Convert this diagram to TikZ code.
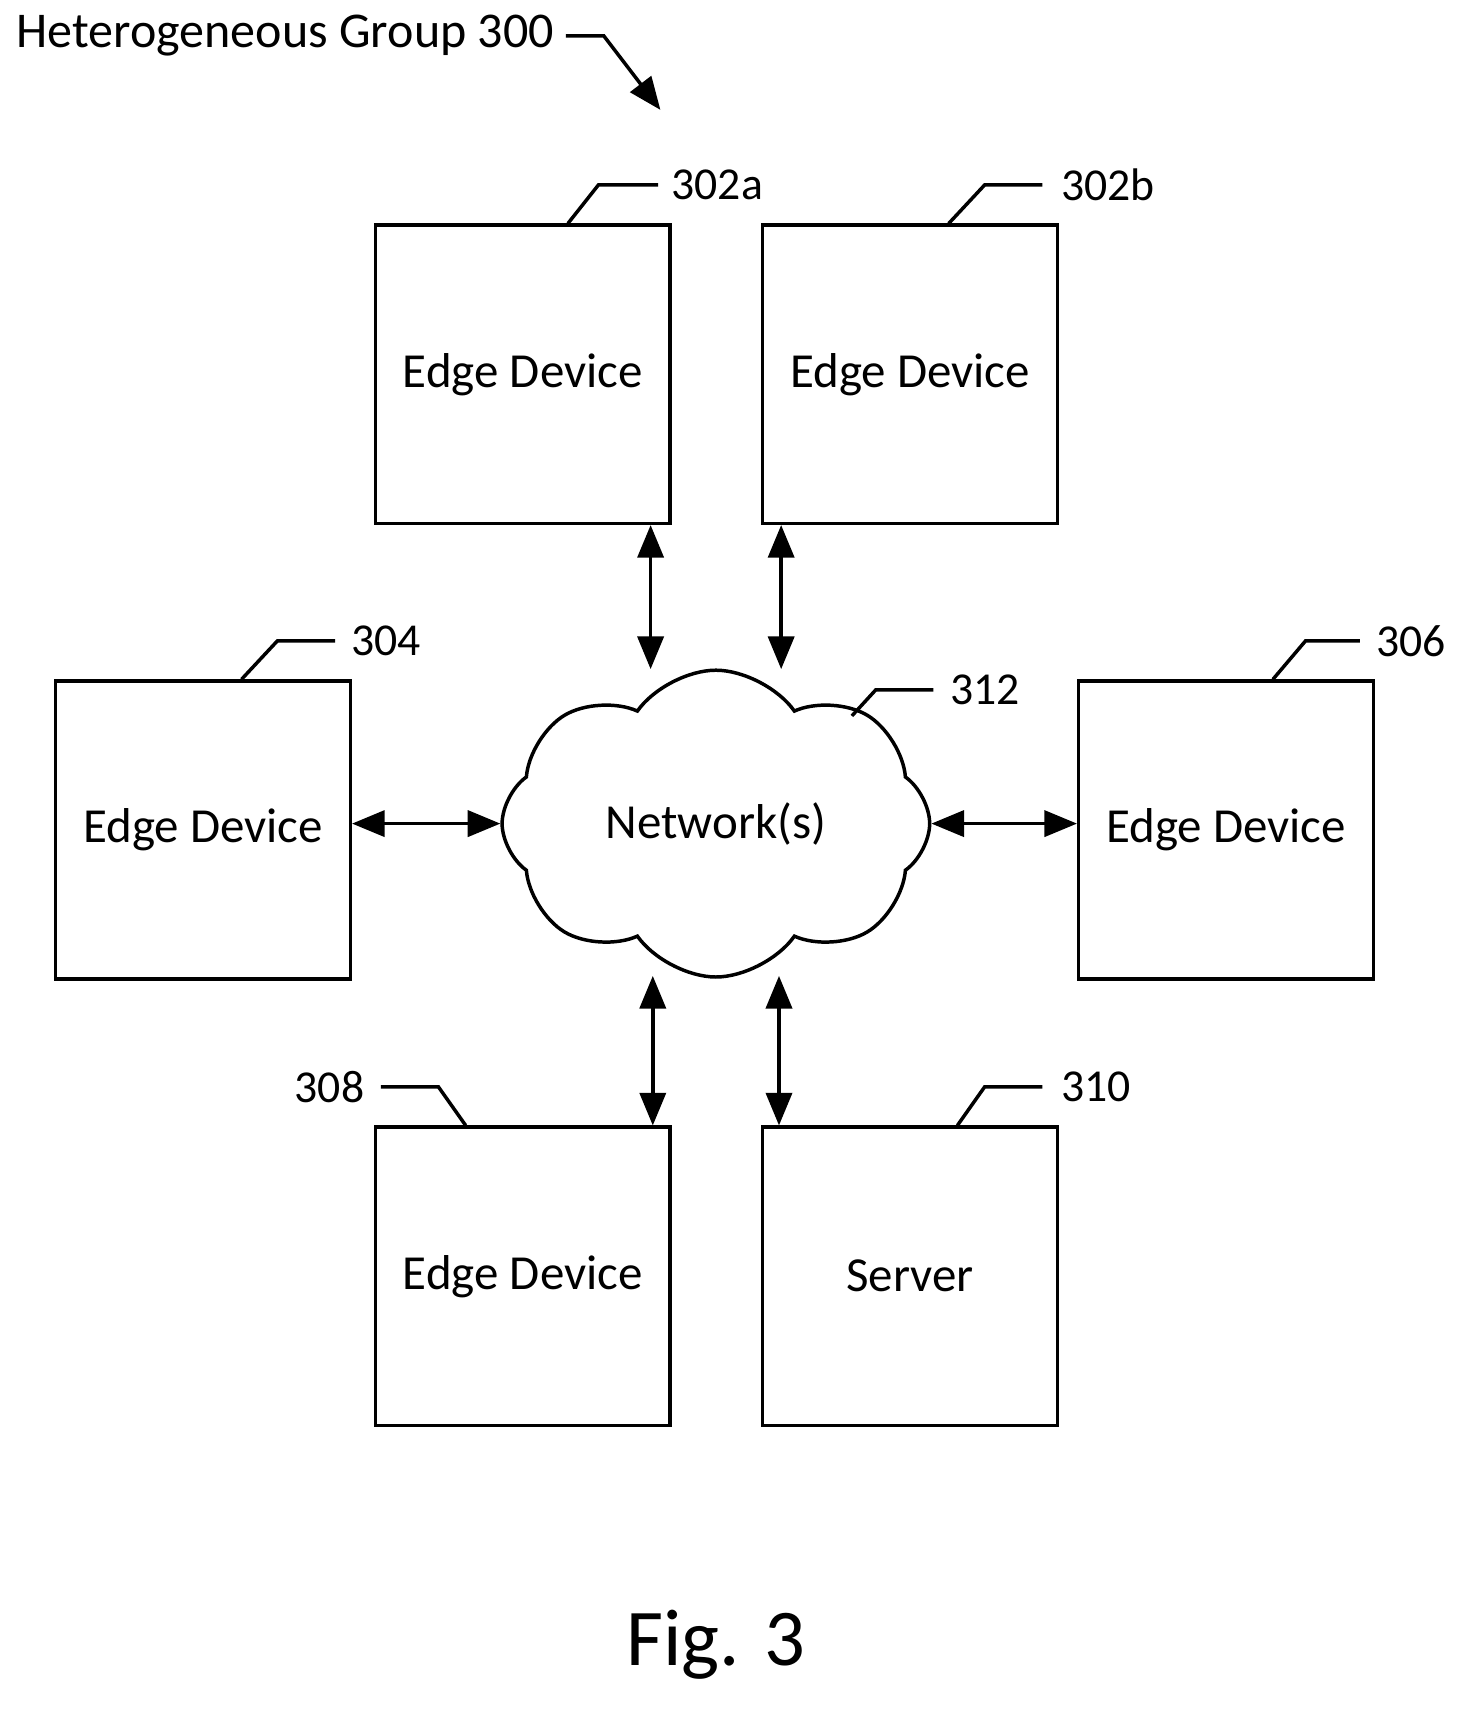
\documentclass[tikz,border=0pt]{standalone}
\usepackage{fontspec}
\setmainfont{Carlito}
\usetikzlibrary{arrows.meta,shapes.symbols}
\begin{document}
\begin{tikzpicture}[x=1pt,y=-1pt,
  box/.style={draw,line width=3.2pt,minimum width=271pt,minimum height=274pt,inner sep=0pt,font=\fontsize{45}{48}\selectfont},
  lab/.style={font=\fontsize{42}{46}\selectfont,inner sep=0pt},
  lead/.style={line width=3.2pt},
  link/.style={line width=3.2pt,{Triangle[length=30pt,width=24pt]}-{Triangle[length=30pt,width=24pt]}}]
\useasboundingbox (0,0) rectangle (1360,1580);
\node[box] (a) at (480.5,344) {Edge Device};
\node[box] (b) at (836.5,344) {Edge Device};
\node[box] (c) at (186.5,763) {Edge Device};
\node[box] (d) at (1127,763) {Edge Device};
\node[box] (e) at (480.5,1173) {Edge Device};
\node[box] (f) at (836.5,1173) {Server};
\node[cloud,draw,line width=3.2pt,cloud puffs=8,cloud puff arc=110,aspect=1.4,shape border rotate=22.5,minimum width=393pt,minimum height=282pt,inner sep=0pt,font=\fontsize{45}{48}\selectfont] (n) at (658,757) {Network(s)};
\coordinate (n1) at (598,615);
\coordinate (n2) at (718,615);
\coordinate (n3) at (600,897);
\coordinate (n4) at (716,897);
\draw[link] (a.south -| n1) -- (n1);
\draw[link] (b.south -| n2) -- (n2);
\draw[link] (n3) -- (e.north -| n3);
\draw[link] (n4) -- (f.north -| n4);
\draw[link] (c.east |- n.west) -- (n.west);
\draw[link] (n.east) -- (d.west |- n.east);
\node[lab,anchor=west] (la) at (617,170) {302a};
\draw[lead] (a.north -| 522,0) -- (550,170) -- (605,170);
\node[lab,anchor=west] (lb) at (975,170) {302b};
\draw[lead] (b.north -| 872,0) -- (905,170) -- (958,170);
\node[lab,anchor=west] (lc) at (323,589) {304};
\draw[lead] (c.north -| 222,0) -- (255,589) -- (308,589);
\node[lab,anchor=west] (ld) at (1265,589) {306};
\draw[lead] (d.north -| 1170,0) -- (1200,589) -- (1250,589);
\node[lab,anchor=west] (ln) at (873,634) {312};
\coordinate (np) at (783,658);
\draw[lead] (np) -- (805,634) -- (858,634);
\node[lab,anchor=east] (le) at (335,999) {308};
\draw[lead] (e.north -| 428,0) -- (403,999) -- (350,999);
\node[lab,anchor=west] (lf) at (975,999) {310};
\draw[lead] (f.north -| 880,0) -- (905,999) -- (958,999);
\node[lab,anchor=west,font=\fontsize{46}{50}\selectfont] (title) at (15,33) {Heterogeneous Group 300};
\coordinate (tg) at (607,101);
\draw[line width=3.2pt,-{Triangle[length=30pt,width=24pt]}] (520,33) -- (555,33) -- (tg);
\node[font=\fontsize{74}{80}\selectfont] (fig) at (658,1512) {Fig. 3};
\end{tikzpicture}
\end{document}
